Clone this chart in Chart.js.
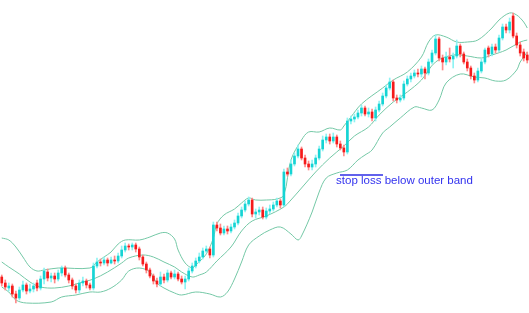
<!DOCTYPE html>
<html>
<head>
<meta charset="utf-8">
<script src="https://cdn.jsdelivr.net/npm/chart.js@4.4.1/dist/chart.umd.min.js"></script>
<style>
  html, body { margin: 0; padding: 0; background: #fff; }
</style>
</head>
<body>
<canvas id="chart" width="529" height="313"></canvas>
<script>
// candle prices, one entry per bar (index 0..149)
const opens = [
    36,30,25,27,19,15,23,28,22,24, 30,25,34,41,35,37,34,40,45,38,
    33,27,23,30,32,28,25,47,51,50, 53,50,53,52,57,63,67,66,68,64,
    56,49,43,37,32,29,36,33,40,36, 39,34,31,34,42,47,52,56,62,64,
    58,88,85,80,84,82,86,90,97,103, 109,113,99,101,103,96,102,104,108,112,
    108,141,139,149,157,164,155,149,146,149, 155,164,173,176,172,176,169,165,161,192,
    194,196,200,205,199,201,195,203,209,217, 225,231,215,213,215,229,234,237,240,239,
    244,240,251,260,274,255,251,256,254,257, 267,259,251,245,237,233,242,251,265,259,
    266,263,275,286,283,297,277,268,261,258
];
const closes = [
    30,26,27,19,15,23,28,22,24,27, 25,34,42,35,37,34,40,45,38,33,
    27,23,30,32,28,25,47,51,50,53, 50,53,52,57,63,67,66,68,64,56,
    49,43,37,32,29,36,33,40,36,39, 34,31,34,42,47,52,56,62,64,58,
    88,85,80,84,82,86,90,97,103,109, 113,99,101,103,96,102,104,108,112,108,
    141,139,149,157,164,155,149,146,149,155, 164,173,176,172,176,169,165,161,192,194,
    196,200,205,199,201,195,203,209,217,225, 231,215,213,215,229,234,237,240,239,244,
    240,251,260,274,255,251,256,254,257,267, 259,251,245,237,233,242,251,263,259,266,
    263,275,286,283,291,277,268,260,255,253
];
const highs = [
    38,33,30,29,22,26,32,30,29,30, 33,37,45,44,40,40,43,47,47,40,
    35,29,33,36,34,30,50,55,54,56, 55,56,57,60,67,70,69,70,70,66,
    58,51,45,39,35,41,39,43,42,43, 41,37,37,45,50,55,60,65,67,66,
    91,91,89,87,87,89,93,100,106,112, 116,115,104,106,106,105,108,111,115,114,
    144,145,153,160,168,166,158,152,153,158, 167,177,179,179,180,178,172,168,195,197,
    199,203,208,207,205,204,206,212,220,228, 235,233,218,218,232,237,240,243,244,247,
    246,254,263,278,276,258,261,265,260,273, 269,261,254,247,240,245,254,265,267,269,
    269,278,289,289,295,300,280,271,264,261
];
const lows = [
    27,23,22,16,10,13,21,19,20,21, 22,23,29,32,31,30,32,37,36,30,
    24,20,20,27,25,23,23,45,47,48, 47,49,49,50,55,61,63,63,61,53,
    47,40,35,29,26,27,30,31,34,34, 32,29,24,32,40,45,50,54,60,55,
    56,82,78,78,79,80,84,88,95,101, 107,96,95,98,94,94,99,102,106,105,
    106,137,137,147,155,153,146,143,143,146, 153,162,170,169,170,166,163,157,159,189,
    191,194,197,197,196,192,192,201,207,215, 223,212,210,211,213,227,231,235,236,236,
    234,238,249,258,252,243,248,251,245,255, 256,249,242,234,230,231,240,249,256,257,
    260,261,273,280,280,275,265,257,252,250
];

// bollinger bands, read at the bar index given in the *At arrays
const upperAt = [0,2,4,6,8,10,12,16,25,27,29,31,33,35,39,42,45,47,49,50,52,54,55,58,60,61,63,66,68,70,72,75,78,80,82,85,87,90,93,96,97,99,102,108,111,115,119,121,123,126,129,132,135,139,141,144,146,148,149];
const upper   = [75,73,66,56,46,42,43,45,45,51,56,61,69,73,73,76,80,80,74,63,50,45,48,59,75,89,98,104,110,115,113,113,114,118,153,173,181,181,185,183,187,196,209,225,233,241,256,271,278,276,271,271,273,285,293,300,298,291,285];
const middleAt = [0,2,5,8,11,15,19,22,26,30,34,36,40,43,46,49,51,54,56,58,61,65,68,71,75,80,82,85,89,93,97,100,104,107,111,115,119,123,128,132,136,139,143,147,149];
const middle   = [51,46,39,31,26,25,27,30,34,41,50,55,58,56,51,46,41,36,38,41,52,66,82,92,97,106,113,125,141,155,167,177,186,198,211,221,233,251,258,257,255,258,263,271,273];
const lowerAt = [0,2,4,7,14,17,21,25,28,31,34,36,39,42,44,46,49,51,55,59,62,64,66,68,70,73,76,79,82,84,85,88,90,92,95,98,101,103,105,108,110,113,117,119,122,124,126,130,134,137,140,143,146,147,149];
const lower   = [26,21,13,10,11,16,18,21,21,25,33,42,45,41,30,25,20,18,21,19,16,21,34,51,68,77,83,86,79,73,77,101,121,135,140,143,153,158,163,180,186,195,206,205,203,213,230,239,236,235,232,233,243,251,261];

const noteText = 'stop loss below outer band';

const upColor = '#16d4d4';
const upWick = '#8ef3f3';
const downColor = '#f51b1b';
const downWick = '#ff8a8a';
const bandColor = '#74c8a6';

const idx = closes.map((c, i) => i);
const isUp = idx.map(i => closes[i] >= opens[i]);

function band(at, vals) {
    return {
        type: 'line',
        data: at.map((x, k) => ({ x: x, y: vals[k] })),
        borderColor: bandColor,
        borderWidth: 1,
        pointRadius: 0,
        tension: 0.35,
        fill: false,
        order: 3
    };
}

const notePlugin = {
    id: 'note',
    afterDraw(chart) {
        const { ctx, scales: { x, y } } = chart;
        ctx.save();
        ctx.strokeStyle = '#2e2ee6';
        ctx.lineWidth = 1.5;
        ctx.beginPath();
        ctx.moveTo(x.getPixelForValue(95.9), y.getPixelForValue(138));
        ctx.lineTo(x.getPixelForValue(108.1), y.getPixelForValue(138));
        ctx.stroke();
        ctx.fillStyle = '#3232ee';
        ctx.font = '11.5px "Liberation Sans", Arial, sans-serif';
        ctx.textBaseline = 'middle';
        ctx.fillText(noteText, x.getPixelForValue(94.8), y.getPixelForValue(132));
        ctx.restore();
    }
};

new Chart(document.getElementById('chart'), {
    type: 'bar',
    data: {
        datasets: [
            band(upperAt, upper),
            band(middleAt, middle),
            band(lowerAt, lower),
            {
                // wicks
                data: idx.map(i => ({ x: i, y: [lows[i], highs[i]] })),
                backgroundColor: idx.map(i => isUp[i] ? upWick : downWick),
                barThickness: 1,
                grouped: false,
                order: 2
            },
            {
                // bodies
                data: idx.map(i => ({ x: i, y: [opens[i], closes[i]] })),
                backgroundColor: idx.map(i => isUp[i] ? upColor : downColor),
                barThickness: 2,
                minBarLength: 1,
                grouped: false,
                order: 1
            }
        ]
    },
    options: {
        responsive: false,
        animation: false,
        layout: { padding: 0 },
        plugins: {
            legend: { display: false },
            tooltip: { enabled: false }
        },
        scales: {
            x: { type: 'linear', min: -0.5, max: 149.5, offset: false, display: false },
            y: { min: 0, max: 313, display: false }
        }
    },
    plugins: [notePlugin]
});
</script>
</body>
</html>
